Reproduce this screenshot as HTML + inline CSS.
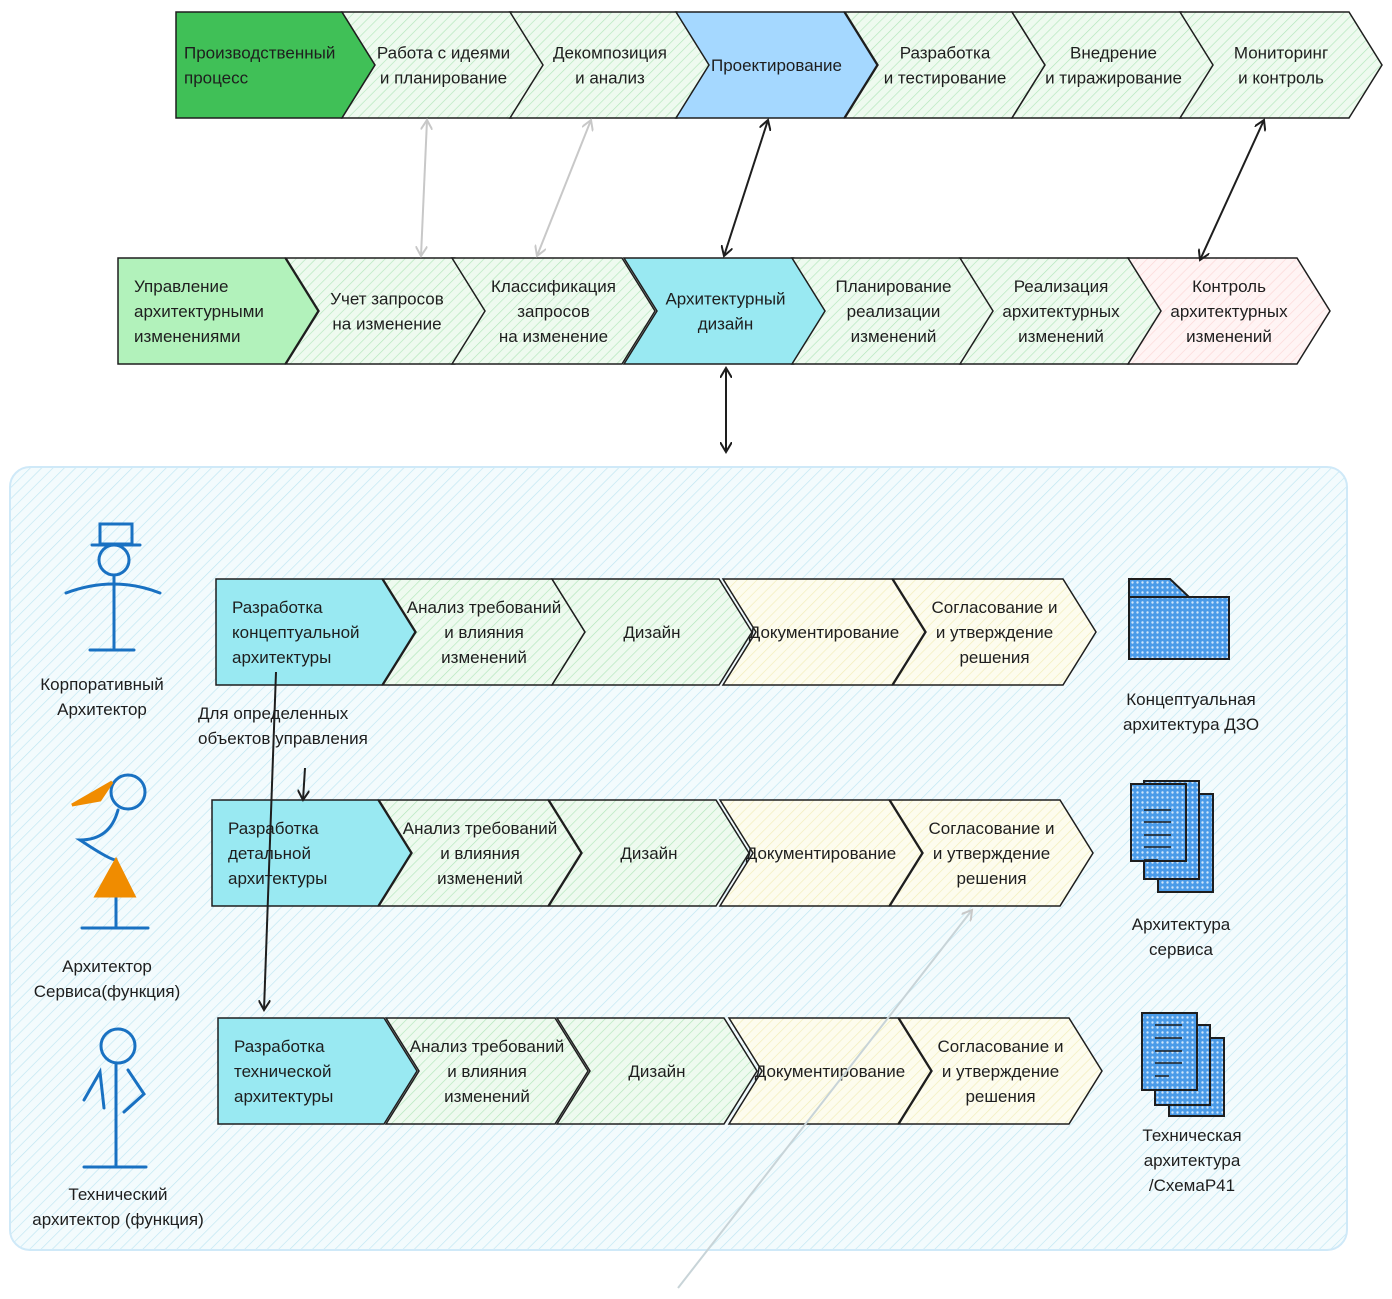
<!DOCTYPE html>
<html><head><meta charset="utf-8"><style>
body{margin:0;background:#fff}
svg{display:block}
text{font-family:"Liberation Sans","DejaVu Sans",sans-serif;font-size:17px;fill:#1e1e1e}
</style></head><body>
<svg id="s" width="1392" height="1299" viewBox="0 0 1392 1299">
<defs>
<pattern id="hb" width="8" height="8" patternUnits="userSpaceOnUse" patternTransform="rotate(45)"><rect width="8" height="8" fill="#f3fbfd"/><line x1="0" y1="0" x2="0" y2="8" stroke="#bfe6f2" stroke-width="1.3"/></pattern>
<pattern id="hg" width="7" height="7" patternUnits="userSpaceOnUse" patternTransform="rotate(45)"><rect width="7" height="7" fill="#eefaef"/><line x1="0" y1="0" x2="0" y2="7" stroke="#b2e6bb" stroke-width="1.3"/></pattern>
<pattern id="hy" width="7" height="7" patternUnits="userSpaceOnUse" patternTransform="rotate(45)"><rect width="7" height="7" fill="#fdfcee"/><line x1="0" y1="0" x2="0" y2="7" stroke="#f2edb8" stroke-width="1.3"/></pattern>
<pattern id="hp" width="7" height="7" patternUnits="userSpaceOnUse" patternTransform="rotate(45)"><rect width="7" height="7" fill="#fff4f4"/><line x1="0" y1="0" x2="0" y2="7" stroke="#fcd6d6" stroke-width="1.3"/></pattern>
<pattern id="hx" width="5" height="5" patternUnits="userSpaceOnUse"><rect width="5" height="5" fill="#4a9be8"/><circle cx="2.5" cy="2.5" r="1.2" fill="#cfe6fb"/></pattern>
<marker id="ah" markerWidth="12" markerHeight="12" refX="10" refY="6" orient="auto-start-reverse" markerUnits="userSpaceOnUse"><path d="M0,0 L10,6 L0,12" fill="none" stroke="#1e1e1e" stroke-width="2"/></marker>
<marker id="ahg" markerWidth="12" markerHeight="12" refX="10" refY="6" orient="auto-start-reverse" markerUnits="userSpaceOnUse"><path d="M0,0 L10,6 L0,12" fill="none" stroke="#c8c8c8" stroke-width="2"/></marker>
</defs>
<rect x="10" y="467" width="1337" height="783" rx="20" fill="url(#hb)" stroke="#cfe9f8" stroke-width="2"/>
<g id="chev"></g>
<g id="arrows" fill="none" stroke-width="2">
<line x1="427" y1="120" x2="421" y2="256" stroke="#c8c8c8" marker-start="url(#ahg)" marker-end="url(#ahg)"/>
<line x1="591" y1="120" x2="537" y2="256" stroke="#c8c8c8" marker-start="url(#ahg)" marker-end="url(#ahg)"/>
<line x1="768" y1="120" x2="724" y2="256" stroke="#1e1e1e" marker-start="url(#ah)" marker-end="url(#ah)"/>
<line x1="1264" y1="120" x2="1200" y2="260" stroke="#1e1e1e" marker-start="url(#ah)" marker-end="url(#ah)"/>
<line x1="726" y1="368" x2="726" y2="452" stroke="#1e1e1e" marker-start="url(#ah)" marker-end="url(#ah)"/>
<line x1="276" y1="672" x2="264" y2="1010" stroke="#1e1e1e" marker-end="url(#ah)"/>
<line x1="305" y1="768" x2="303" y2="800" stroke="#1e1e1e" marker-end="url(#ah)"/>
<line x1="678" y1="1288" x2="972" y2="910" stroke="#c8d4d8" marker-end="url(#ahg)"/>
</g>
<text x="198" y="719">Для определенных</text>
<text x="198" y="744">объектов управления</text>
<g fill="none" stroke="#1971c2" stroke-width="3" stroke-linecap="round">
<rect x="100" y="524" width="32" height="20"/><line x1="92" y1="545" x2="140" y2="545"/><circle cx="114" cy="560" r="15"/><line x1="114" y1="575" x2="114" y2="648"/><path d="M66,593 Q114,575 160,593"/><line x1="90" y1="650" x2="134" y2="650"/></g>
<g fill="none" stroke="#1971c2" stroke-width="3" stroke-linecap="round">
<circle cx="128" cy="792" r="17"/><path d="M118,810 Q110,840 80,840 Q110,860 116,860 L116,928"/><path d="M116,860 L96,896 L134,896 Z" fill="#f08c00" stroke="#f08c00"/><path d="M72,805 L112,782 L100,800 Z" fill="#f08c00" stroke="#f08c00"/><line x1="82" y1="928" x2="148" y2="928"/></g>
<g fill="none" stroke="#1971c2" stroke-width="3" stroke-linecap="round">
<circle cx="118" cy="1046" r="17"/><line x1="116" y1="1064" x2="116" y2="1165"/><path d="M84,1100 L100,1072 L104,1108"/><path d="M128,1070 L144,1094 L124,1112"/><line x1="84" y1="1167" x2="146" y2="1167"/></g>
<text x="102" y="690" text-anchor="middle"><tspan x="102">Корпоративный</tspan><tspan x="102" dy="25">Архитектор</tspan></text>
<text x="107" y="972" text-anchor="middle"><tspan x="107">Архитектор</tspan><tspan x="107" dy="25">Сервиса(функция)</tspan></text>
<text x="118" y="1200" text-anchor="middle"><tspan x="118">Технический</tspan><tspan x="118" dy="25">архитектор (функция)</tspan></text>
<g stroke="#1e1e1e" stroke-width="2"><path d="M1129,579 L1170,579 L1189,597 L1129,597Z" fill="url(#hx)"/><rect x="1129" y="597" width="100" height="62" fill="url(#hx)"/></g>
<g stroke="#1e1e1e" stroke-width="2"><rect x="1158" y="794" width="55" height="98" fill="url(#hx)"/><rect x="1144" y="781" width="55" height="98" fill="url(#hx)"/><rect x="1131" y="784" width="55" height="77" fill="url(#hx)"/><path d="M1144,810h27M1144,822h27M1144,835h27M1144,847h27M1144,860h14" stroke-width="1.5"/></g>
<g stroke="#1e1e1e" stroke-width="2"><rect x="1169" y="1038" width="55" height="78" fill="url(#hx)"/><rect x="1155" y="1025" width="55" height="80" fill="url(#hx)"/><rect x="1142" y="1013" width="55" height="77" fill="url(#hx)"/><path d="M1155,1025h27M1155,1038h27M1155,1051h27M1155,1063h27M1155,1076h14" stroke-width="1.5"/></g>
<text x="1191" y="705" text-anchor="middle"><tspan x="1191">Концептуальная</tspan><tspan x="1191" dy="25">архитектура ДЗО</tspan></text>
<text x="1181" y="930" text-anchor="middle"><tspan x="1181">Архитектура</tspan><tspan x="1181" dy="25">сервиса</tspan></text>
<text x="1192" y="1141" text-anchor="middle"><tspan x="1192">Техническая</tspan><tspan x="1192" dy="25">архитектура</tspan><tspan x="1192" dy="25">/СхемаР41</tspan></text>
</svg>
<script>
const rowTops=[12,258,579,800,1018];
const rowX=[[176,342,510,676,845,1012,1180],[118,286,452,624,792,960,1128],[216,383,552,723,893],[212,379,549,720,890],[218,386,557,729,899]];
const rowW=[[199,203,200,201,200,203,202],[200,202,203,203,203,202,202],[199,202,200,202,203],[199,202,200,202,203],[199,202,200,202,203]];
const fills=[["#40c057","url(#hg)","url(#hg)","#a5d8ff","url(#hg)","url(#hg)","url(#hg)"],["#b2f2bb","url(#hg)","url(#hg)","#99e9f2","url(#hg)","url(#hg)","url(#hp)"],["#99e9f2","url(#hg)","url(#hg)","url(#hy)","url(#hy)"],["#99e9f2","url(#hg)","url(#hg)","url(#hy)","url(#hy)"],["#99e9f2","url(#hg)","url(#hg)","url(#hy)","url(#hy)"]];
const labels=[["Производственный|процесс","Работа с идеями|и планирование","Декомпозиция|и анализ","Проектирование","Разработка|и тестирование","Внедрение|и тиражирование","Мониторинг|и контроль"],
["Управление|архитектурными|изменениями","Учет запросов|на изменение","Классификация|запросов|на изменение","Архитектурный|дизайн","Планирование|реализации|изменений","Реализация|архитектурных|изменений","Контроль|архитектурных|изменений"],
["Разработка|концептуальной|архитектуры","Анализ требований|и влияния|изменений","Дизайн","Документирование","Согласование и|и утверждение|решения"],
["Разработка|детальной|архитектуры","Анализ требований|и влияния|изменений","Дизайн","Документирование","Согласование и|и утверждение|решения"],
["Разработка|технической|архитектуры","Анализ требований|и влияния|изменений","Дизайн","Документирование","Согласование и|и утверждение|решения"]];
const g=document.getElementById('chev');const NS='http://www.w3.org/2000/svg';
const H=106,D=33;
rowTops.forEach((y,r)=>{rowX[r].forEach((x,i)=>{
 const w=rowW[r][i];const first=i===0;
 const p=document.createElementNS(NS,'path');
 p.setAttribute('d',`M${x},${y} L${x+w-D},${y} L${x+w},${y+H/2} L${x+w-D},${y+H} L${x},${y+H} `+(first?'Z':`L${x+D},${y+H/2} Z`));
 p.setAttribute('fill',fills[r][i]);p.setAttribute('stroke','#1e1e1e');p.setAttribute('stroke-width','1.5');
 
 
 g.appendChild(p);
 const lines=labels[r][i].split('|');
 const t=document.createElementNS(NS,'text');
 const cx=first?(r===0?x+8:x+16):x+(w-D)/2+D/2;
 if(!first)t.setAttribute('text-anchor','middle');
 const y0=y+H/2-(lines.length-1)*12.5+6;
 lines.forEach((l,k)=>{const ts=document.createElementNS(NS,'tspan');ts.setAttribute('x',cx);ts.setAttribute('y',y0+k*25);ts.textContent=l;t.appendChild(ts);});
 
 
 g.appendChild(t);
});});
</script>
</body></html>
